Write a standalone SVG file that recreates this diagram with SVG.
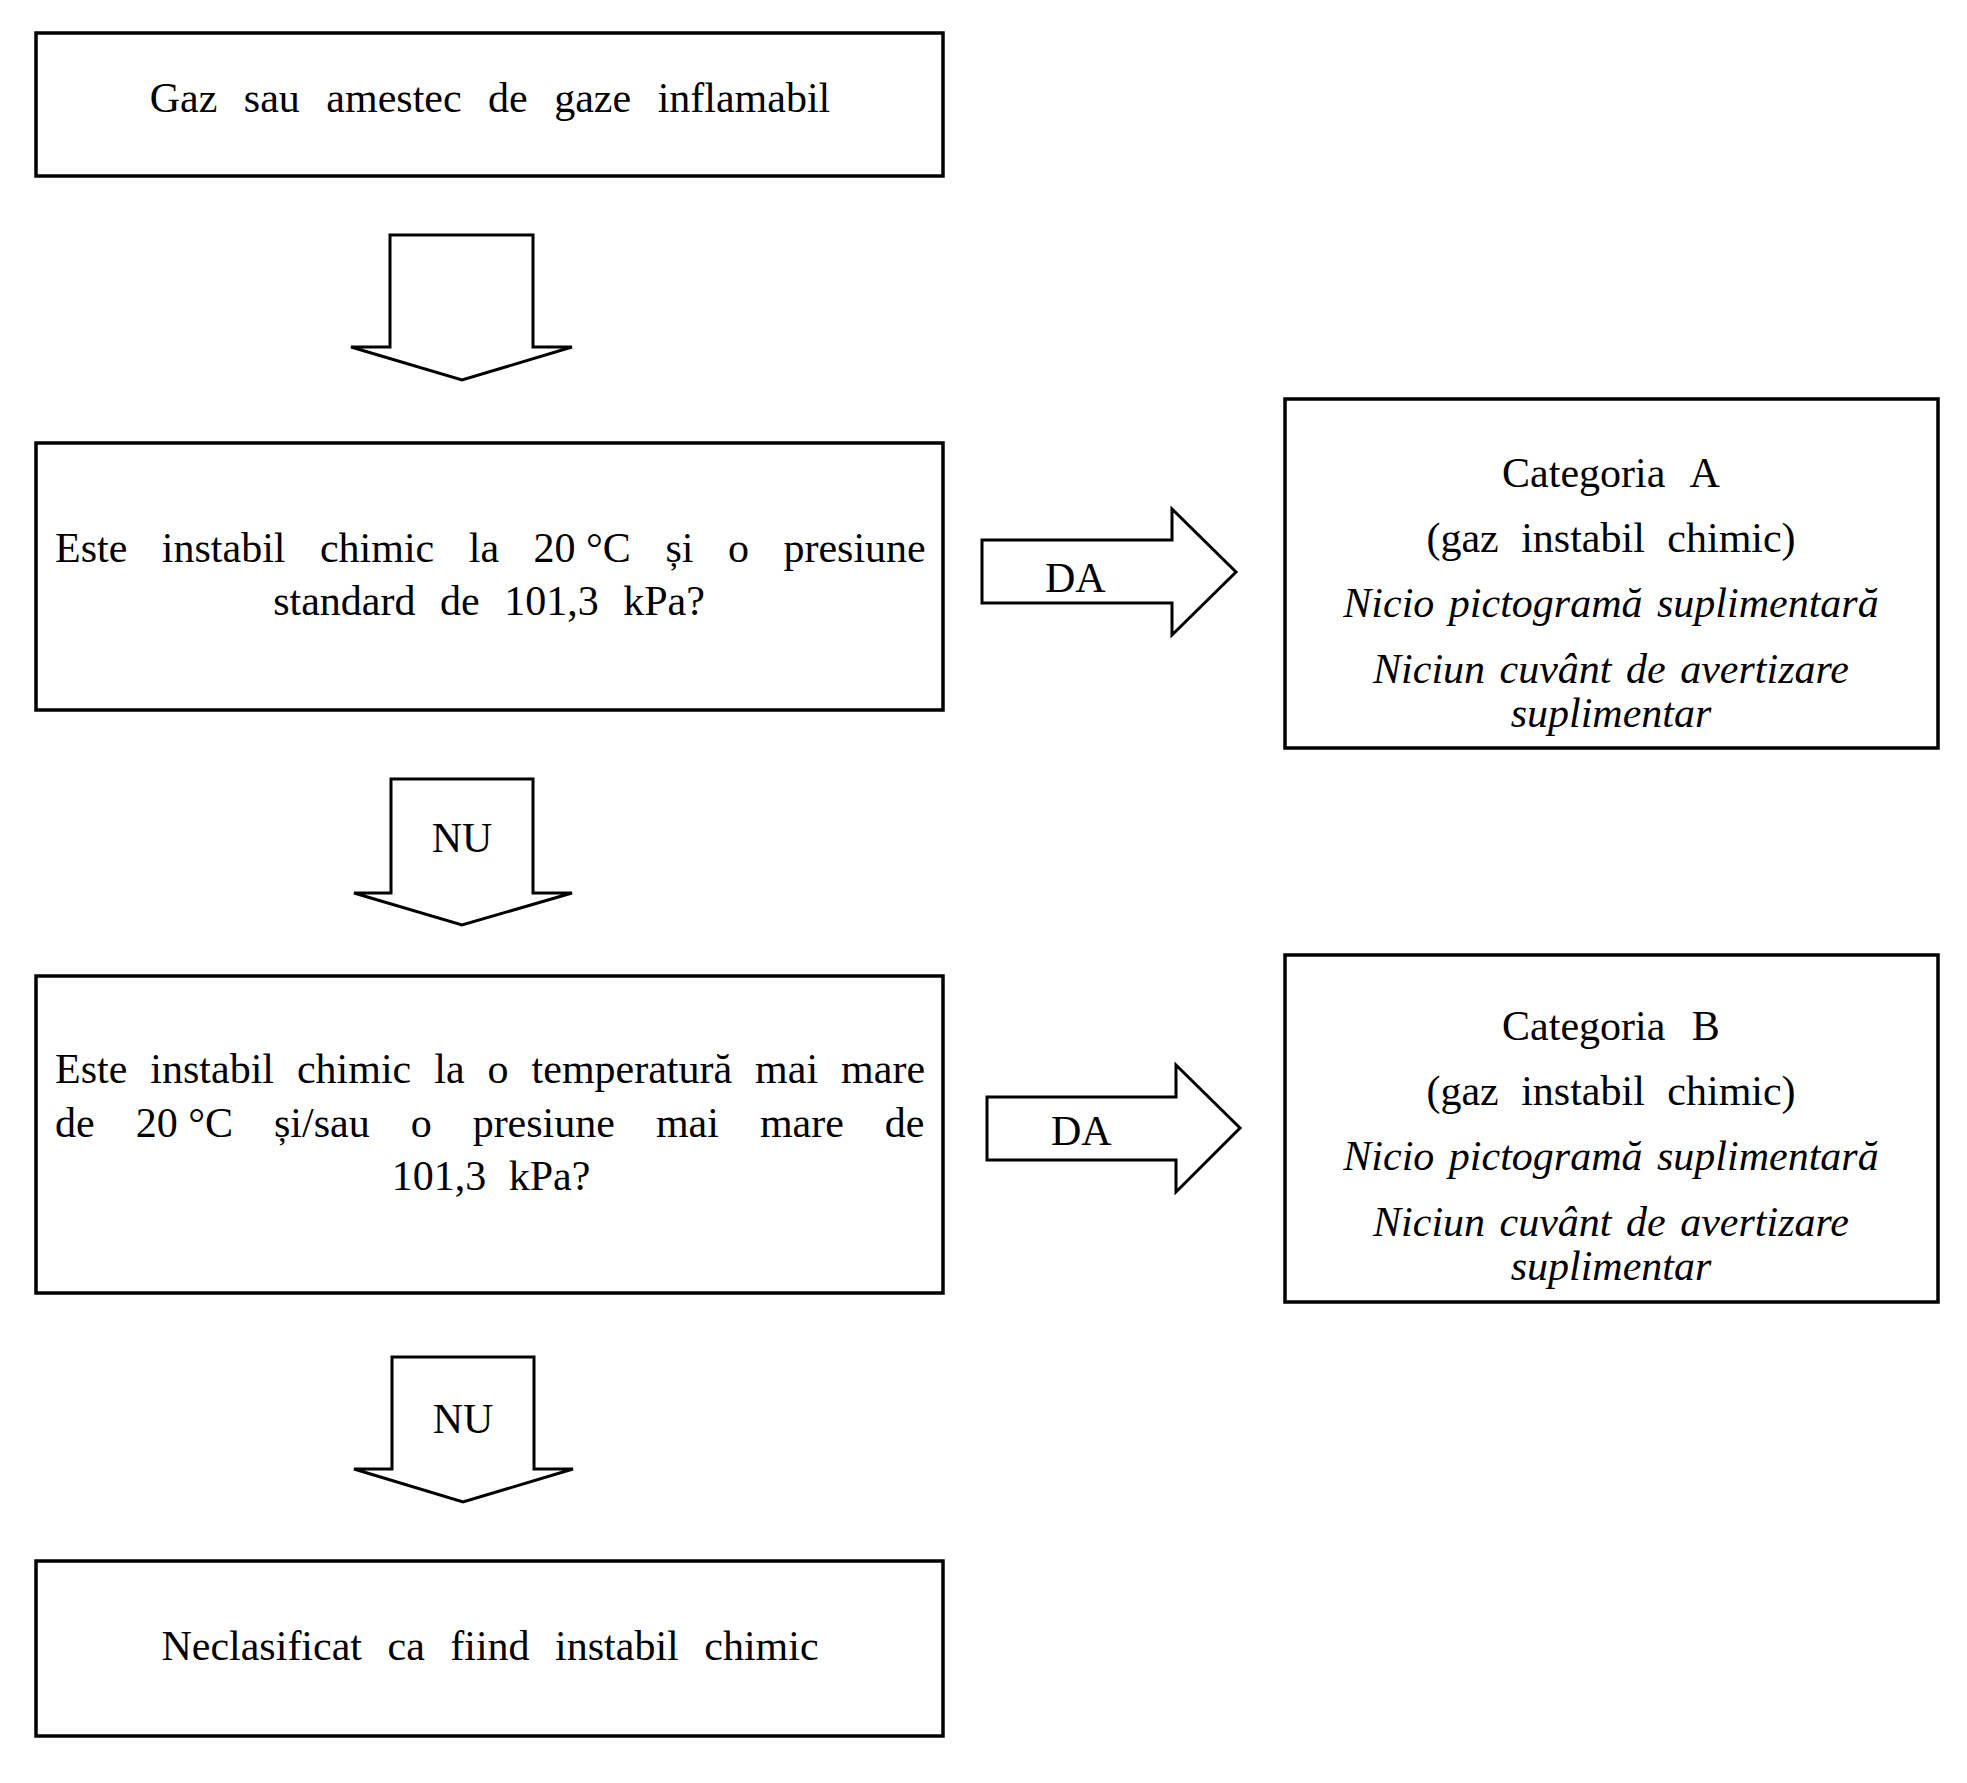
<svg xmlns="http://www.w3.org/2000/svg" width="1967" height="1783" viewBox="0 0 1967 1783">
<style>
.box{fill:#fff;stroke:#000;stroke-width:3.5}
.arr{fill:#fff;stroke:#000;stroke-width:3;stroke-linejoin:miter}
text{font-family:"Liberation Serif","Times New Roman",serif;font-size:42px;fill:#000;word-spacing:14px}
.c{text-anchor:middle}
.i{font-style:italic;word-spacing:4px}
.ns{word-spacing:0}
</style>
<rect width="1967" height="1783" fill="#fff"/>
<g id="connectors">
<g id="arrow1">
<path class="arr" d="M390,235 H533 V347 H572 L462,380 L351,347 H390 Z"/>
</g>
<g id="arrow-nu1">
<path class="arr" d="M391,779 H533 V893 H572 L462,925 L354,893 H391 Z"/>
<text class="c" x="462" y="852" style="word-spacing:0">NU</text>
</g>
<g id="arrow-nu2">
<path class="arr" d="M392,1357 H534 V1469 H573 L463,1502 L354,1469 H392 Z"/>
<text class="c" x="463" y="1433" style="word-spacing:0">NU</text>
</g>
<g id="arrow-da1">
<path class="arr" d="M982,540 H1172 V509 L1236,572 L1172,635 V603 H982 Z"/>
<text x="1045" y="592" style="word-spacing:0">DA</text>
</g>
<g id="arrow-da2">
<path class="arr" d="M987,1097 H1176 V1065 L1240,1128 L1176,1192 V1160 H987 Z"/>
<text x="1051" y="1145" style="word-spacing:0">DA</text>
</g>
</g>
<g id="node-start">
<rect class="box" x="36" y="33" width="907" height="143"/>
<text class="c" x="490" y="112" style="word-spacing:16px">Gaz sau amestec de gaze inflamabil</text>
</g>
<g id="node-q1">
<rect class="box" x="36" y="443" width="907" height="267"/>
<text x="55" y="562" style="word-spacing:24px">Este instabil chimic la 20<tspan class="ns"> °C</tspan> și o presiune</text>
<text class="c" x="489" y="615">standard de 101,3 kPa?</text>
</g>
<g id="node-catA">
<rect class="box" x="1285" y="399" width="653" height="349"/>
<text class="c" x="1611" y="487" style="word-spacing:16px">Categoria A</text>
<text class="c" x="1611" y="552" style="word-spacing:12px">(gaz instabil chimic)</text>
<text class="c i" x="1611" y="617">Nicio pictogramă suplimentară</text>
<text class="c i" x="1611" y="683">Niciun cuvânt de avertizare</text>
<text class="c i" x="1611" y="727">suplimentar</text>
</g>
<g id="node-q2">
<rect class="box" x="36" y="976" width="907" height="317"/>
<text x="55" y="1083" style="word-spacing:12.5px">Este instabil chimic la o temperatură mai mare</text>
<text x="55" y="1137" style="word-spacing:30.5px">de 20<tspan class="ns"> °C</tspan> și/sau o presiune mai mare de</text>
<text class="c" x="491" y="1190" style="word-spacing:12px">101,3 kPa?</text>
</g>
<g id="node-catB">
<rect class="box" x="1285" y="955" width="653" height="347"/>
<text class="c" x="1611" y="1040" style="word-spacing:16px">Categoria B</text>
<text class="c" x="1611" y="1105" style="word-spacing:12px">(gaz instabil chimic)</text>
<text class="c i" x="1611" y="1170">Nicio pictogramă suplimentară</text>
<text class="c i" x="1611" y="1236">Niciun cuvânt de avertizare</text>
<text class="c i" x="1611" y="1280">suplimentar</text>
</g>
<g id="node-end">
<rect class="box" x="36" y="1561" width="907" height="175"/>
<text class="c" x="490" y="1660" style="word-spacing:15px">Neclasificat ca fiind instabil chimic</text>
</g>
</svg>
